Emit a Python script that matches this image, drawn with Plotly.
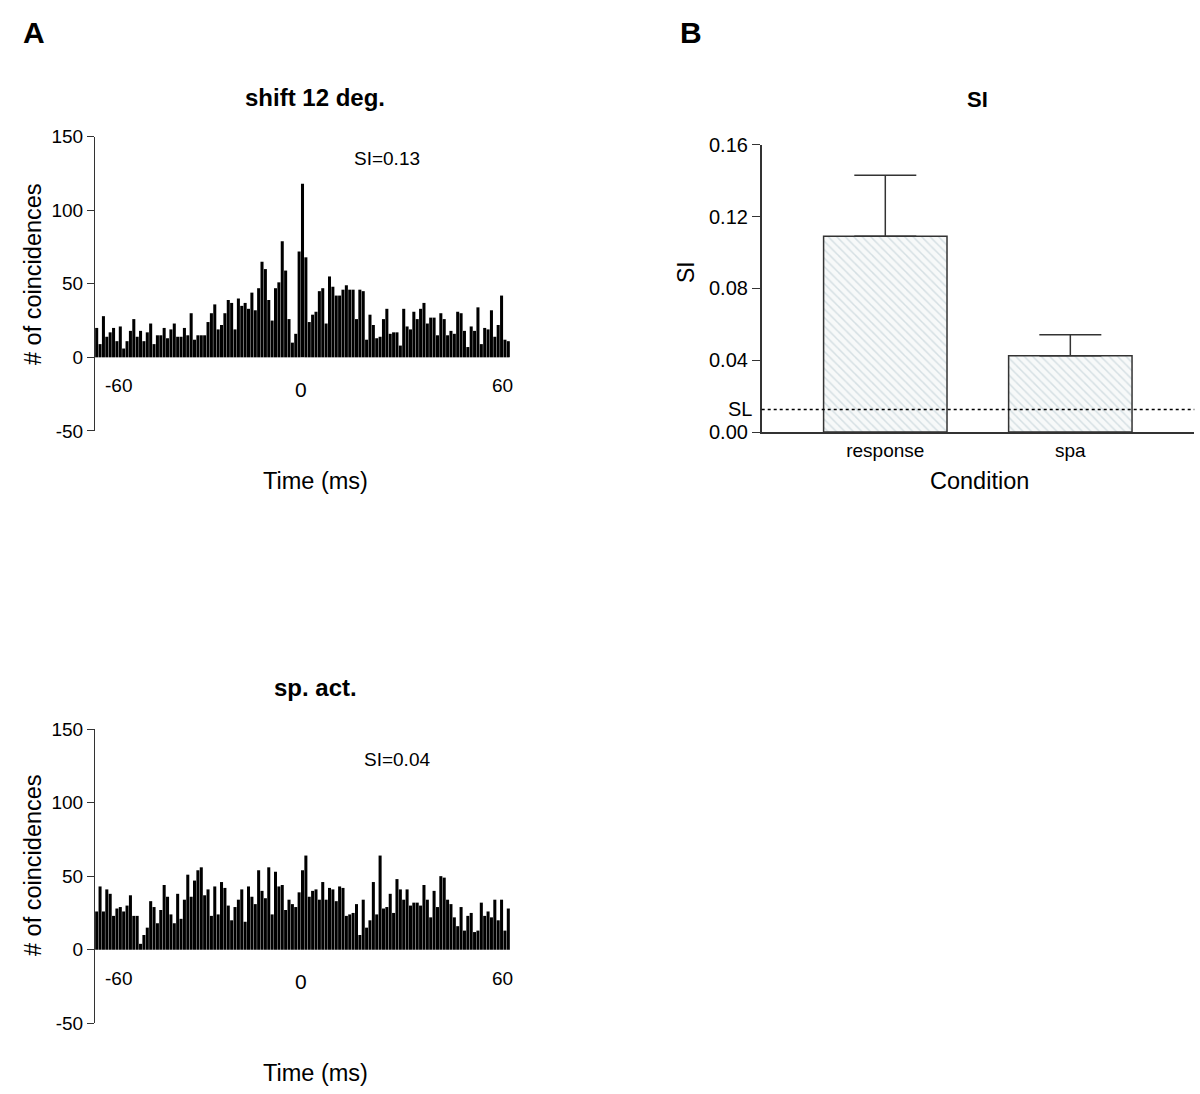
import plotly.graph_objects as go

W, H = 1200, 1094

# ---------------- data ----------------
lags = list(range(-61, 62))  # ms, 1 ms bins

shift_counts = [
    20, 9, 28, 14, 17, 20, 11, 21, 6, 11,
    18, 26, 14, 18, 11, 17, 23, 9, 15, 15,
    20, 13, 19, 23, 14, 14, 20, 15, 30, 12,
    15, 15, 15, 24, 30, 36, 19, 22, 30, 39,
    37, 19, 40, 35, 37, 33, 44, 32, 47, 65,
    60, 39, 25, 47, 51, 79, 59, 26, 10, 16,
    72,
    118, 68, 24, 29, 31, 45, 47, 23, 55, 48,
    42, 42, 46, 49, 46, 46, 26, 46, 45, 12,
    29, 22, 13, 14, 26, 33, 16, 17, 17, 8,
    33, 21, 19, 31, 26, 33, 37, 23, 27, 27,
    15, 30, 26, 15, 18, 16, 31, 30, 18, 7,
    21, 18, 34, 9, 20, 19, 32, 14, 22, 42,
    12, 11,
]

spont_counts = [
    26, 43, 26, 41, 38, 23, 28, 29, 26, 30,
    37, 23, 23, 4, 10, 15, 33, 29, 18, 27,
    44, 36, 24, 18, 38, 21, 34, 51, 36, 47,
    54, 56, 37, 41, 23, 43, 24, 46, 42, 30,
    20, 29, 34, 41, 19, 43, 36, 31, 54, 40,
    35, 56, 24, 53, 43, 44, 27, 34, 31, 29,
    39,
    54, 64, 36, 40, 41, 34, 46, 34, 42, 41,
    33, 43, 42, 23, 24, 25, 31, 10, 34, 15,
    20, 46, 24, 64, 28, 29, 38, 25, 48, 41,
    34, 41, 30, 32, 32, 30, 44, 34, 22, 40,
    29, 50, 49, 34, 31, 22, 16, 29, 13, 23,
    25, 12, 13, 32, 23, 26, 22, 34, 20, 34,
    13, 28,
]

hist_yticks = [-50, 0, 50, 100, 150]
hist_yticktext = ["-50", "0", "50", "100", "150"]
hist_xlabels = ["-60", "0", "60"]
hist_xlabel_pos = [-60, 0, 60]

conditions = ["response", "spa"]
si_means = [0.109, 0.0425]
si_errors = [0.034, 0.0117]
sl_level = 0.0126
si_ticks = [0.00, 0.04, 0.08, 0.12, 0.16]

# ---------------- helpers ----------------
FONT = "Liberation Sans, Arial, sans-serif"
AX = "#333333"


def px_x(x):
    return x / W


def px_y(y):
    return 1 - y / H


fig = go.Figure()

fig.add_trace(go.Bar(x=lags, y=shift_counts, marker=dict(color="black", line=dict(width=0)),
                     xaxis="x", yaxis="y", showlegend=False))
fig.add_trace(go.Bar(x=lags, y=spont_counts, marker=dict(color="black", line=dict(width=0)),
                     xaxis="x2", yaxis="y2", showlegend=False))
fig.add_trace(go.Bar(
    x=[0, 1], y=si_means, width=0.667,
    marker=dict(color="#fbfcfc", line=dict(color=AX, width=1.5),
                pattern=dict(shape="\\", fgcolor="#b4c6cd", bgcolor="#f7f9f9", size=6, solidity=0.25)),
    error_y=dict(type="data", symmetric=False, array=si_errors, arrayminus=[0, 0],
                 color=AX, thickness=1.5, width=31),
    xaxis="x3", yaxis="y3", showlegend=False))

hist_x = dict(range=[-61.5, 61.5], showticklabels=False, showline=False, zeroline=False,
              showgrid=False, ticks="", fixedrange=True, automargin=False)
hist_y = dict(range=[-50, 150], tickvals=hist_yticks, ticktext=hist_yticktext,
              ticks="outside", ticklen=7, tickwidth=1,
              tickcolor=AX, showline=True, linecolor=AX, linewidth=1, showgrid=False,
              zeroline=False, tickfont=dict(size=19, color="black"), automargin=False)

top_dom = [px_y(430.9), px_y(136.7)]
bot_dom = [px_y(1023.3), px_y(729.0)]
left_dom = [px_x(95), px_x(510)]
right_dom = [px_x(761.7), px_x(1194.3)]

fig.update_layout(
    width=W, height=H, autosize=False,
    margin=dict(l=0, r=0, t=0, b=0, pad=0, autoexpand=False),
    paper_bgcolor="white", plot_bgcolor="white",
    font=dict(family=FONT, color="black"),
    bargap=0.1,
    xaxis=dict(domain=left_dom, anchor="y", **hist_x),
    yaxis=dict(domain=top_dom, anchor="x", **hist_y),
    xaxis2=dict(domain=left_dom, anchor="y2", **hist_x),
    yaxis2=dict(domain=bot_dom, anchor="x2", **hist_y),
    xaxis3=dict(domain=right_dom, anchor="y3", range=[-0.668, 1.670], tickvals=[0, 1],
                ticktext=conditions, ticks="", showline=True, linecolor=AX, linewidth=1.5,
                showgrid=False, zeroline=False, tickfont=dict(size=19, color="black"),
                automargin=False),
    yaxis3=dict(domain=[px_y(432.0), px_y(144.7)], anchor="x3", range=[0, 0.16],
                tickvals=si_ticks, ticktext=[f"{v:.2f}" for v in si_ticks],
                ticks="outside", ticklen=8, tickwidth=1, tickcolor=AX, showline=True,
                linecolor=AX, linewidth=1.5, showgrid=False, zeroline=False,
                tickfont=dict(size=20, color="black"), automargin=False),
)

# SL dotted line
fig.add_shape(type="line", xref="x3 domain", yref="y3", x0=0, x1=1, y0=sl_level, y1=sl_level,
              line=dict(color="black", width=1.5, dash="dot"))

ann = []


def text(x, y, s, size, bold=False, angle=0, xref="paper", yref="paper", xanchor="center",
         yanchor="middle", xshift=0):
    ann.append(dict(x=x, y=y, xref=xref, yref=yref, text=f"<b>{s}</b>" if bold else s,
                    showarrow=False, font=dict(size=size, family=FONT, color="black"),
                    textangle=angle, xanchor=xanchor, yanchor=yanchor, xshift=xshift))


# panel letters
text(px_x(34), px_y(33), "A", 30, bold=True)
text(px_x(691), px_y(33), "B", 30, bold=True)

# top histogram
text(px_x(315), px_y(97), "shift 12 deg.", 24, bold=True)
text(px_x(387), px_y(158), "SI=0.13", 19)
text(px_x(33), px_y(274), "# of coincidences", 23.5, angle=-90)
text(px_x(316), px_y(481), "Time (ms)", 23.5)

# bottom histogram
text(px_x(315), px_y(687), "sp. act.", 24, bold=True)
text(px_x(397), px_y(759), "SI=0.04", 19)
text(px_x(33), px_y(865), "# of coincidences", 23.5, angle=-90)
text(px_x(316), px_y(1073), "Time (ms)", 23.5)

# time labels placed along the time axis
label_shift = {"-60": 18, "0": -2, "60": -2}
label_size = {"-60": 19, "0": 21, "60": 19}
for xref, ypix in (("x", 386), ("x2", 978)):
    for lab, v in zip(hist_xlabels, hist_xlabel_pos):
        text(v, px_y(ypix + (3 if lab == "0" else 0)), lab, label_size[lab], xref=xref,
             xshift=label_shift[lab])

# panel B texts
text(px_x(978), px_y(100), "SI", 22, bold=True)
text(px_x(686), px_y(272), "SI", 23, angle=-90)
text(px_x(979), px_y(481), "Condition", 23.5)
ann.append(dict(x=0, y=sl_level, xref="x3 domain", yref="y3", text="SL", showarrow=False,
                font=dict(size=20, family=FONT, color="black"), xanchor="right",
                yanchor="middle", xshift=-8))

fig.update_layout(annotations=ann)

fig.write_html("out.html", config={"displayModeBar": False},
               post_script="document.body.style.margin='0';document.body.style.padding='0';")
